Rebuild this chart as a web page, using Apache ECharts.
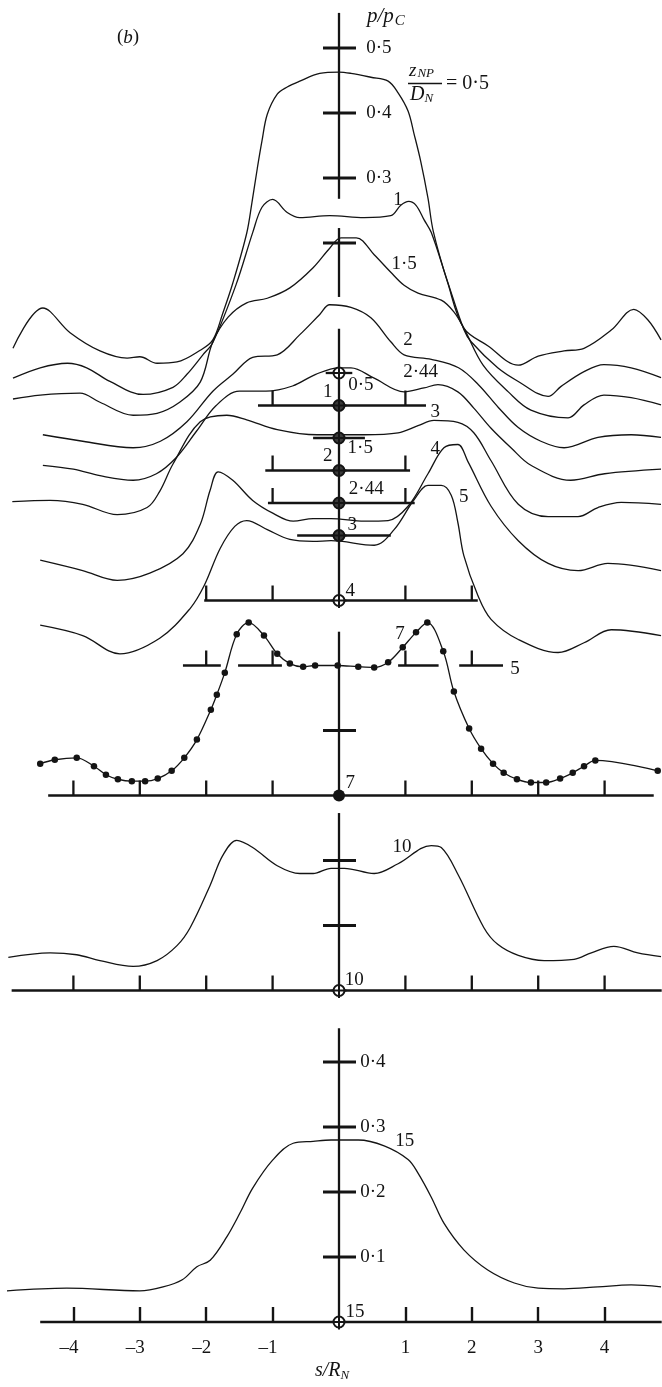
<!DOCTYPE html>
<html>
<head>
<meta charset="utf-8">
<script src="https://cdn.jsdelivr.net/npm/echarts@6/dist/echarts.min.js"></script>
<style>
  html, body { margin: 0; padding: 0; background: #fff; }
  #chart { width: 662px; height: 1387px; }
</style>
</head>
<body>
<div id="chart"></div>
<script>
// ---- data -------------------------------------------------------------
// labelled positions on the s/R_N axis
const sTickValues = [-4, -3, -2, -1, 1, 2, 3, 4];
// p/p_C values marked on the upper and lower vertical scales
const pTicksTop = [0.3, 0.4, 0.5];
const pTicksBottom = [0.1, 0.2, 0.3, 0.4];

// nozzle heights z_NP/D_N and the stacking offset of each profile's zero line
const zLabels  = ['0·5', '1', '1·5', '2', '2·44', '3', '4', '5', '7', '10', '15'];
const zOffsets = [1.46, 1.41, 1.36, 1.31, 1.26, 1.21, 1.11, 1.01, 0.81, 0.51, 0];

// pressure profiles, [s/R_N, p/p_C]
const prof05 = [[-4.91,0.038],[-4.46,0.100],[-4.05,0.062],[-3.60,0.034],[-3.19,0.023],[-3.00,0.025],[-2.74,0.015],[-2.44,0.017],[-2.09,0.035],[-1.90,0.051],[-1.75,0.092],[-1.60,0.138],[-1.39,0.215],[-1.31,0.263],[-1.23,0.315],[-1.16,0.357],[-1.08,0.398],[-0.93,0.429],[-0.78,0.440],[-0.59,0.449],[-0.29,0.461],[0.00,0.463],[0.18,0.461],[0.48,0.455],[0.74,0.449],[0.89,0.431],[1.04,0.403],[1.13,0.368],[1.23,0.326],[1.34,0.269],[1.42,0.218],[1.64,0.138],[1.88,0.069],[2.24,0.042],[2.70,0.012],[3.00,0.026],[3.39,0.034],[3.69,0.038],[4.10,0.066],[4.44,0.098],[4.65,0.082],[4.85,0.051]];
const prof1 = [[-4.91,0.042],[-4.50,0.058],[-4.09,0.065],[-3.80,0.058],[-3.45,0.037],[-2.95,0.017],[-2.50,0.028],[-2.29,0.048],[-2.05,0.078],[-1.90,0.097],[-1.55,0.186],[-1.30,0.266],[-1.16,0.305],[-1.00,0.317],[-0.78,0.297],[-0.59,0.289],[-0.14,0.292],[0.38,0.289],[0.78,0.292],[0.93,0.308],[1.05,0.314],[1.16,0.308],[1.28,0.286],[1.39,0.266],[1.64,0.189],[1.88,0.117],[1.99,0.098],[2.39,0.058],[2.70,0.037],[3.15,0.014],[3.34,0.029],[3.69,0.052],[3.99,0.063],[4.40,0.058],[4.85,0.043]];
const prof15 = [[-4.91,0.060],[-4.50,0.066],[-3.90,0.069],[-3.60,0.055],[-3.10,0.035],[-2.74,0.038],[-2.40,0.055],[-2.09,0.086],[-1.90,0.148],[-1.67,0.186],[-1.39,0.208],[-1.08,0.215],[-0.74,0.231],[-0.39,0.262],[-0.14,0.292],[0.03,0.308],[0.26,0.308],[0.53,0.282],[0.78,0.255],[0.98,0.235],[1.19,0.223],[1.54,0.212],[1.73,0.194],[1.88,0.169],[2.17,0.112],[2.55,0.071],[2.89,0.043],[3.45,0.031],[3.69,0.051],[3.99,0.066],[4.40,0.062],[4.85,0.051]];
const prof2 = [[-4.46,0.055],[-3.86,0.045],[-3.10,0.035],[-2.69,0.045],[-2.29,0.075],[-1.90,0.122],[-1.60,0.148],[-1.30,0.174],[-0.93,0.178],[-0.59,0.209],[-0.29,0.240],[-0.14,0.255],[0.18,0.251],[0.48,0.235],[0.78,0.198],[0.98,0.178],[1.39,0.171],[1.80,0.158],[2.10,0.132],[2.40,0.097],[2.70,0.066],[3.04,0.045],[3.39,0.035],[3.90,0.051],[4.40,0.055],[4.85,0.051]];
const prof244 = [[-4.46,0.058],[-4.00,0.052],[-3.60,0.042],[-3.10,0.035],[-2.75,0.045],[-2.45,0.070],[-2.15,0.110],[-1.85,0.150],[-1.50,0.172],[-1.10,0.172],[-0.70,0.180],[-0.35,0.198],[0.00,0.208],[0.18,0.208],[0.53,0.192],[0.98,0.171],[1.28,0.177],[1.49,0.182],[1.79,0.171],[2.03,0.146],[2.29,0.115],[2.59,0.085],[2.89,0.058],[3.49,0.035],[4.00,0.045],[4.85,0.052]];
const prof3 = [[-4.92,0.052],[-4.35,0.054],[-3.86,0.048],[-3.34,0.032],[-2.89,0.043],[-2.70,0.068],[-2.50,0.110],[-2.09,0.175],[-1.69,0.185],[-1.39,0.178],[-0.93,0.163],[-0.33,0.155],[0.38,0.155],[0.89,0.158],[1.19,0.169],[1.43,0.177],[1.79,0.174],[2.03,0.158],[2.29,0.115],[2.70,0.048],[3.15,0.029],[3.60,0.029],[3.90,0.043],[4.25,0.051],[4.85,0.048]];
const prof4 = [[-4.50,0.062],[-3.86,0.046],[-3.34,0.031],[-2.85,0.042],[-2.35,0.072],[-2.09,0.117],[-1.94,0.170],[-1.82,0.198],[-1.60,0.185],[-1.30,0.154],[-0.99,0.134],[-0.69,0.122],[-0.39,0.126],[-0.12,0.126],[0.38,0.122],[0.74,0.123],[1.04,0.145],[1.34,0.195],[1.58,0.235],[1.79,0.240],[1.94,0.214],[2.29,0.145],[2.70,0.092],[3.15,0.057],[3.60,0.046],[4.05,0.057],[4.85,0.046]];
const prof5 = [[-4.50,0.062],[-3.86,0.046],[-3.30,0.018],[-2.70,0.042],[-2.24,0.088],[-2.03,0.123],[-1.79,0.180],[-1.57,0.214],[-1.39,0.223],[-1.08,0.209],[-0.74,0.194],[-0.39,0.191],[-0.12,0.192],[0.53,0.185],[0.83,0.209],[1.13,0.255],[1.34,0.277],[1.54,0.277],[1.69,0.262],[1.79,0.220],[1.88,0.169],[2.09,0.108],[2.29,0.071],[2.70,0.040],[3.30,0.020],[3.69,0.035],[4.10,0.055],[4.85,0.046]];
// measured points at z/D = 7
const prof7 = [[-4.50,0.049],[-4.28,0.055],[-3.95,0.058],[-3.69,0.045],[-3.51,0.032],[-3.33,0.025],[-3.12,0.022],[-2.92,0.022],[-2.73,0.026],[-2.52,0.038],[-2.33,0.058],[-2.14,0.086],[-1.93,0.132],[-1.84,0.155],[-1.72,0.189],[-1.54,0.248],[-1.36,0.266],[-1.13,0.246],[-0.93,0.218],[-0.74,0.203],[-0.54,0.198],[-0.36,0.200],[-0.02,0.200],[0.29,0.198],[0.53,0.197],[0.74,0.205],[0.96,0.228],[1.16,0.251],[1.33,0.266],[1.57,0.222],[1.73,0.160],[1.96,0.103],[2.14,0.072],[2.32,0.049],[2.48,0.035],[2.68,0.025],[2.89,0.020],[3.12,0.020],[3.33,0.026],[3.52,0.035],[3.69,0.045],[3.86,0.054],[4.80,0.038]];
const prof10 = [[-4.98,0.051],[-4.35,0.058],[-3.95,0.055],[-3.60,0.046],[-3.10,0.037],[-2.74,0.046],[-2.44,0.069],[-2.24,0.097],[-1.94,0.162],[-1.75,0.208],[-1.54,0.231],[-1.30,0.220],[-0.93,0.192],[-0.59,0.180],[-0.39,0.180],[-0.12,0.188],[0.08,0.188],[0.53,0.180],[0.89,0.195],[1.39,0.223],[1.54,0.220],[1.80,0.177],[2.18,0.097],[2.39,0.071],[2.70,0.054],[3.09,0.046],[3.54,0.048],[3.80,0.058],[4.14,0.068],[4.50,0.058],[4.85,0.052]];
const prof15z = [[-5.00,0.048],[-4.10,0.052],[-3.00,0.048],[-2.65,0.054],[-2.36,0.065],[-2.14,0.085],[-1.94,0.095],[-1.69,0.131],[-1.49,0.168],[-1.30,0.206],[-1.00,0.249],[-0.69,0.275],[-0.39,0.278],[-0.12,0.280],[0.29,0.280],[0.68,0.271],[1.04,0.250],[1.19,0.229],[1.39,0.192],[1.58,0.152],[1.88,0.111],[2.24,0.080],[2.64,0.060],[3.00,0.052],[3.39,0.051],[3.90,0.054],[4.40,0.057],[4.85,0.054]];
const profiles = [prof05, prof1, prof15, prof2, prof244, prof3, prof4, prof5, prof7, prof10, prof15z];

// zero-line spans (s/R_N) and their tick positions for each profile
const baseSpans = [[[-0.2, 0.2]], [[-1.22, 1.31]], [[-0.39, 0.39]], [[-1.11, 1.07]], [[-1.07, 1.14]], [[-0.63, 0.78]],
                   [[-2.03, 2.09]], [[-2.35, -1.78], [-1.52, -0.86], [0.89, 1.5], [1.81, 2.47]],
                   [[-4.38, 4.74]], [[-4.93, 4.86]], [[-4.5, 4.86]]];
const baseTicks = [[], [-1, 1], [], [-1, 1], [-1, 1], [], [-2, -1, 1, 2], [-2, -1, 1, 2],
                   sTickValues, sTickValues, []];
// vertical p/p_C scales: [profile index, p from, p to, tick values]
const stems = [[0, 0.268, 0.554, pTicksTop], [2, 0.217, 0.323, [0.3]], [6, 0, 0.418, []],
               [8, 0, 0.252, [0.1]], [9, 0, 0.273, [0.1, 0.2]], [10, 0, 0.452, pTicksBottom]];
// origin markers: open crossed circles, dark crossed circles, and the solid dot
const openMarks = [0, 6, 9, 10];
const darkMarks = [1, 2, 3, 4, 5];
const filledMarks = [8];

// ---- layout -------------------------------------------------------------
const FONT = '"Liberation Serif", "Times New Roman", serif';
const FS = 19;
const INK = '#141414';
const S_MIN = -5, S_MAX = -5 + 655 / 66.4;
const V_MAX = 1322 / 650;

// curve names beside the profiles: [profile index, s, v]
const curveNames = [[1, 0.89, 1.726], [2, 0.98, 1.628], [3, 1.04, 1.511], [4, 1.23, 1.462], [5, 1.45, 1.40],
                    [6, 1.45, 1.343], [7, 1.88, 1.269], [8, 0.92, 1.058], [7, 2.65, 1.005], [9, 0.95, 0.731], [10, 0.99, 0.278]];
// names beside the origin markers: [profile index, ds, dv]
const originNames = [[0, 0.33, -0.018], [1, -0.17, 0.021], [2, 0.32, -0.015], [3, -0.17, 0.022], [4, 0.41, 0.022],
                     [5, 0.2, 0.016], [6, 0.17, 0.015], [8, 0.17, 0.019], [9, 0.23, 0.016], [10, 0.24, 0.015]];

const fmt = v => v.toFixed(1).replace('.', '·');

// build primitive lists from the data
const segs = [];      // [s1, v1, s2, v2]
const upTicks = [];   // [s, v]
const sideTicks = []; // [s, v]
const texts = [];     // {s, v, text, align, dx}
baseSpans.forEach((spans, i) => spans.forEach(([a, b]) => segs.push([a, zOffsets[i], b, zOffsets[i]])));
baseTicks.forEach((ticks, i) => { if (i !== 10) ticks.forEach(s => upTicks.push([s, zOffsets[i]])); });
stems.forEach(([i, p0, p1, ticks]) => {
  segs.push([0, zOffsets[i] + p0, 0, zOffsets[i] + p1]);
  ticks.forEach(p => sideTicks.push([0, zOffsets[i] + p]));
});
pTicksTop.forEach(p => texts.push({ s: 0.41, v: zOffsets[0] + p, text: fmt(p), align: 'left', dx: 0 }));
pTicksBottom.forEach(p => texts.push({ s: 0.32, v: zOffsets[10] + p, text: fmt(p), align: 'left', dx: 0 }));
curveNames.forEach(([i, s, v]) => texts.push({ s, v, text: zLabels[i], align: 'center', dx: 0 }));
originNames.forEach(([i, ds, dv]) => texts.push({ s: ds, v: zOffsets[i] + dv, text: zLabels[i], align: 'center', dx: 0 }));
// bottom s/R_N labels: the digit sits on the tick, a minus sign hangs to its left
sTickValues.forEach(s => texts.push({ s, v: zOffsets[10] - 0.04,
  text: s < 0 ? '–' + (-s) : String(s), align: s < 0 ? 'right' : 'center', dx: s < 0 ? 5 : 0 }));

const chart = echarts.init(document.getElementById('chart'), null, { renderer: 'canvas' });

const profileSeries = profiles.map((prof, i) => ({
  type: 'line',
  name: zLabels[i],
  data: prof.map(([s, p]) => [s, p + zOffsets[i]]),
  smooth: 0.35,
  clip: false,
  silent: true,
  showSymbol: i === 8,
  symbol: 'circle',
  symbolSize: 6.5,
  itemStyle: { color: INK, borderWidth: 0 },
  lineStyle: { color: INK, width: 1.3 },
  z: 2
}));

// crossed-circle origin marker
const crossedCircle = (fill) => (params, api) => {
  const a = api.coord([api.value(0), api.value(1)]);
  return { type: 'group', children: [
    { type: 'circle', shape: { cx: a[0], cy: a[1], r: 5.5 }, style: { fill, stroke: INK, lineWidth: 2 } },
    { type: 'line', shape: { x1: a[0] - 7.5, y1: a[1], x2: a[0] + 7.5, y2: a[1] }, style: { stroke: INK, lineWidth: 2 } },
    { type: 'line', shape: { x1: a[0], y1: a[1] - 7.5, x2: a[0], y2: a[1] + 7.5 }, style: { stroke: INK, lineWidth: 2 } }
  ] };
};

var option = {
  animation: false,
  backgroundColor: '#fff',
  grid: { left: 7, right: 0, top: 0, bottom: 65 },
  xAxis: {
    type: 'value', min: S_MIN, max: S_MAX,
    axisLine: { show: false },
    splitLine: { show: false },
    axisTick: { show: true, inside: true, length: 15, customValues: sTickValues,
                lineStyle: { color: INK, width: 2.4 } },
    axisLabel: { show: false }
  },
  yAxis: { type: 'value', min: 0, max: V_MAX, show: false },
  series: [
    ...profileSeries,
    {
      type: 'custom', coordinateSystem: 'cartesian2d', silent: true, clip: false, z: 3,
      data: segs,
      renderItem: (params, api) => {
        const a = api.coord([api.value(0), api.value(1)]);
        const b = api.coord([api.value(2), api.value(3)]);
        return { type: 'line', shape: { x1: a[0], y1: a[1], x2: b[0], y2: b[1] },
                 style: { stroke: INK, lineWidth: 2.3 } };
      }
    },
    {
      type: 'custom', coordinateSystem: 'cartesian2d', silent: true, clip: false, z: 3,
      data: upTicks,
      renderItem: (params, api) => {
        const a = api.coord([api.value(0), api.value(1)]);
        return { type: 'line', shape: { x1: a[0], y1: a[1], x2: a[0], y2: a[1] - 15 },
                 style: { stroke: INK, lineWidth: 2.3 } };
      }
    },
    {
      type: 'custom', coordinateSystem: 'cartesian2d', silent: true, clip: false, z: 3,
      data: sideTicks,
      renderItem: (params, api) => {
        const a = api.coord([api.value(0), api.value(1)]);
        return { type: 'line', shape: { x1: a[0] - 16, y1: a[1], x2: a[0] + 17, y2: a[1] },
                 style: { stroke: INK, lineWidth: 3 } };
      }
    },
    {
      type: 'custom', coordinateSystem: 'cartesian2d', silent: true, clip: false, z: 4,
      data: openMarks.map(i => [0, zOffsets[i]]),
      renderItem: crossedCircle('#fff')
    },
    {
      type: 'custom', coordinateSystem: 'cartesian2d', silent: true, clip: false, z: 4,
      data: darkMarks.map(i => [0, zOffsets[i]]),
      renderItem: crossedCircle('#3a3a3a')
    },
    {
      type: 'custom', coordinateSystem: 'cartesian2d', silent: true, clip: false, z: 4,
      data: filledMarks.map(i => [0, zOffsets[i]]),
      renderItem: (params, api) => {
        const a = api.coord([api.value(0), api.value(1)]);
        return { type: 'circle', shape: { cx: a[0], cy: a[1], r: 6 }, style: { fill: INK } };
      }
    },
    {
      type: 'custom', coordinateSystem: 'cartesian2d', silent: true, clip: false, z: 5,
      data: texts.map(t => [t.s, t.v]),
      renderItem: (params, api) => {
        const t = texts[params.dataIndex];
        const a = api.coord([api.value(0), api.value(1)]);
        return { type: 'text', style: { text: t.text, x: a[0] + t.dx, y: a[1], align: t.align, verticalAlign: 'middle',
                 fontFamily: FONT, fontSize: FS, fill: INK } };
      }
    }
  ],
  graphic: [
    { type: 'text', left: 117, top: 28,
      style: { text: '({b|b})', fontFamily: FONT, fontSize: 19, fill: INK,
               rich: { b: { fontStyle: 'italic', fontFamily: FONT, fontSize: 19 } } } },
    { type: 'text', left: 367, top: 6,
      style: { text: '{i|p/p}{sub|C}', fill: INK,
               rich: { i: { fontStyle: 'italic', fontFamily: FONT, fontSize: 21, fill: INK },
                       sub: { fontStyle: 'italic', fontFamily: FONT, fontSize: 15, fill: INK, padding: [9, 0, 0, 1] } } } },
    { type: 'text', left: 409, top: 61,
      style: { text: '{i|z}{sub|NP}', fill: INK,
               rich: { i: { fontStyle: 'italic', fontFamily: FONT, fontSize: 19, fill: INK },
                       sub: { fontStyle: 'italic', fontFamily: FONT, fontSize: 13, fill: INK, padding: [7, 0, 0, 1] } } } },
    { type: 'line', shape: { x1: 408, y1: 83.5, x2: 442, y2: 83.5 }, style: { stroke: INK, lineWidth: 1.3 } },
    { type: 'text', left: 410, top: 85,
      style: { text: '{i|D}{sub|N}', fill: INK,
               rich: { i: { fontStyle: 'italic', fontFamily: FONT, fontSize: 20, fill: INK },
                       sub: { fontStyle: 'italic', fontFamily: FONT, fontSize: 13, fill: INK, padding: [8, 0, 0, 0] } } } },
    { type: 'text', left: 446, top: 74,
      style: { text: '= 0·5', fontFamily: FONT, fontSize: 20, fill: INK } },
    { type: 'text', left: 315, top: 1361,
      style: { text: '{i|s/R}{sub|N}', fill: INK,
               rich: { i: { fontStyle: 'italic', fontFamily: FONT, fontSize: 20, fill: INK },
                       sub: { fontStyle: 'italic', fontFamily: FONT, fontSize: 13, fill: INK, padding: [9, 0, 0, 0] } } } }
  ]
};
chart.setOption(option);
</script>
</body>
</html>
